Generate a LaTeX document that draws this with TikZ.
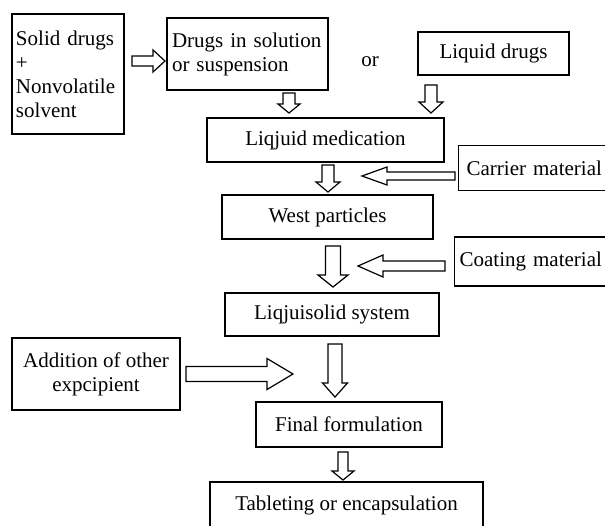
\documentclass[tikz,border=0pt]{standalone}
\usepackage{fontspec}
\setmainfont{Liberation Serif}
% block arrows: vertical (x, ytop, yheadbase, ytip, shaft half, head half)
\newcommand\darrow[6]{\draw[blk] (#1-#5,#2) -- (#1+#5,#2) -- (#1+#5,#3) -- (#1+#6,#3) -- (#1,#4) -- (#1-#6,#3) -- (#1-#5,#3) -- cycle;}
% horizontal (y, xtail, xheadbase, xtip, shaft half, head half)
\newcommand\harrow[6]{\draw[blk] (#2,#1-#5) -- (#3,#1-#5) -- (#3,#1-#6) -- (#4,#1) -- (#3,#1+#6) -- (#3,#1+#5) -- (#2,#1+#5) -- cycle;}
\begin{document}
\begin{tikzpicture}[x=1pt,y=-1pt,
  font=\fontsize{21}{24}\selectfont,
  box/.style={draw, line width=1.3pt, inner sep=0pt},
  blk/.style={draw, line width=1.2pt, fill=white, line join=miter}]
\useasboundingbox (0,0) rectangle (605,525);
\clip (0,0) rectangle (605,525);
\node[box, minimum width=112, minimum height=120, text width=104, align=left] (sol) at (68,74) {Solid drugs\\+\\Nonvolatile\\solvent};
\node[box, minimum width=161, minimum height=72, text width=151, align=left] (dis) at (247.5,54) {\mbox{Drugs in solution}\\or suspension};
\node (or) at (370,62) {or};
\node[box, minimum width=151, minimum height=43] (liq) at (493.5,53.5) {Liquid drugs};
\node[box, minimum width=237, minimum height=44] (med) at (325.5,140) {Liqjuid medication};
\node[box, anchor=west, minimum width=150, minimum height=45, text width=134, align=left] (car) at (458,168) {\mbox{Carrier material}};
\node[box, minimum width=211, minimum height=44] (wet) at (327.5,217) {West particles};
\node[box, anchor=west, minimum width=152, minimum height=49, text width=142, align=left] (coat) at (454,261.5) {\mbox{Coating material}};
\node[box, minimum width=214, minimum height=43] (lsys) at (332,314.5) {Liqjuisolid system};
\node[box, minimum width=168, minimum height=72, align=center] (add) at (96,374) {Addition of other\\expcipient};
\node[box, minimum width=186, minimum height=45] (fin) at (349,424.5) {Final formulation};
\node[box, minimum width=273, minimum height=47] (tab) at (346.5,505.5) {Tableting or encapsulation};
% arrows
\harrow{61}{132}{153}{165}{5}{11}
\darrow{289}{93}{104}{113}{6}{11}
\darrow{431}{85}{102}{113}{6}{12}
\harrow{176}{455}{387}{362}{4}{9}
\darrow{328}{165}{182}{192}{6}{12}
\darrow{333}{246}{275}{287}{7.5}{15}
\harrow{266}{445}{383}{358}{5}{11}
\harrow{374}{186}{267}{293}{7.5}{15.5}
\darrow{335}{344}{383}{397}{7}{12.5}
\darrow{343}{452}{471}{480}{5}{11}
\end{tikzpicture}
\end{document}
